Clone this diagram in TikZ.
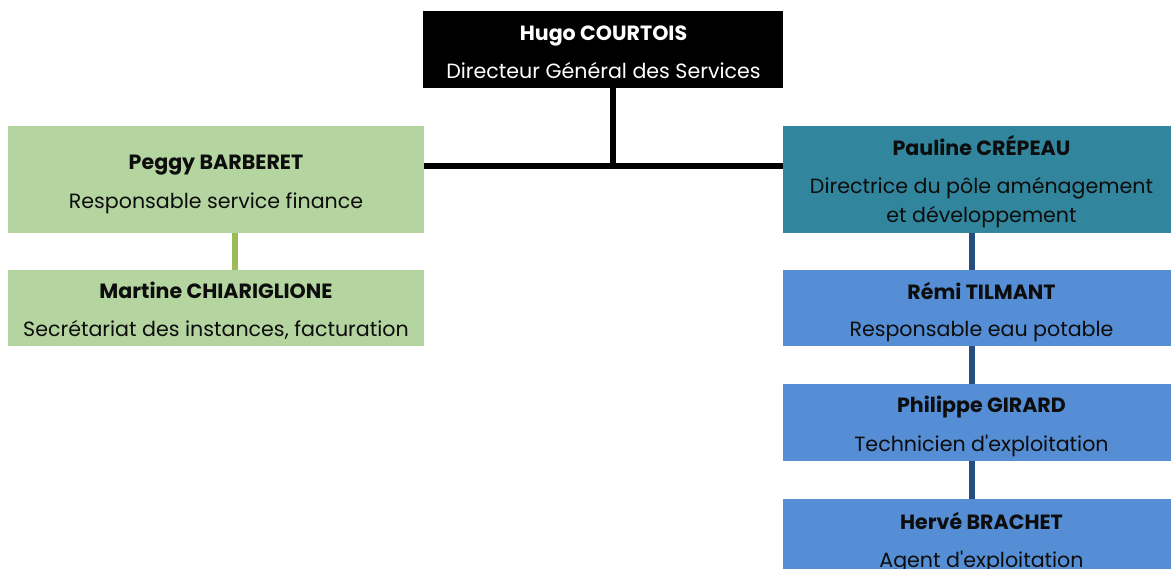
\documentclass[tikz,border=0pt]{standalone}
\usepackage{fontspec}
\setmainfont{Poppins}
\definecolor{greenfill}{HTML}{B4D4A0}
\definecolor{greenline}{HTML}{9BBB59}
\definecolor{tealfill}{HTML}{31859C}
\definecolor{bluefill}{HTML}{558ED5}
\definecolor{blueline}{HTML}{254D7F}
\definecolor{txt}{HTML}{0D0D0D}
\begin{document}
\begin{tikzpicture}[x=1pt,y=-1pt,
  box/.style={rectangle,draw=none,inner sep=0pt,outer sep=0pt},
  nm/.style={anchor=base,inner sep=0pt,font=\fontsize{20.6}{24}\selectfont\bfseries,text=txt},
  rl/.style={anchor=base,inner sep=0pt,font=\fontsize{20.6}{24}\selectfont,text=txt},
  blk/.style={draw=black,line width=6pt},
  gl/.style={draw=greenline,line width=5.5pt},
  bl/.style={draw=blueline,line width=5.5pt}]
\useasboundingbox[fill=white] (0,0) rectangle (1171,569);
% boxes
\node[box,fill=black,minimum width=360,minimum height=77] (dgs) at (603,49.5) {};
\node[box,fill=greenfill,minimum width=416,minimum height=107] (fin) at (216,179.5) {};
\node[box,fill=greenfill,minimum width=416,minimum height=76] (sec) at (216,308) {};
\node[box,fill=tealfill,minimum width=397,minimum height=107] (pol) at (981.5,179.5) {};
\node[box,fill=bluefill,minimum width=397,minimum height=76] (eau) at (981.5,308) {};
\node[box,fill=bluefill,minimum width=397,minimum height=77] (tech) at (981.5,422.5) {};
\node[box,fill=bluefill,minimum width=397,minimum height=90] (agent) at (981.5,544) {};
% connectors
\coordinate (j) at (613,166.5);
\coordinate (gx) at (235,0);
\coordinate (bx) at (972,0);
\draw[blk] (dgs.south -| j) -- (j);
\draw[blk] (fin.east |- j) -- (pol.west |- j);
\draw[gl] (fin.south -| gx) -- (sec.north -| gx);
\draw[bl] (pol.south -| bx) -- (eau.north -| bx);
\draw[bl] (eau.south -| bx) -- (tech.north -| bx);
\draw[bl] (tech.south -| bx) -- (agent.north -| bx);
% texts
\node[nm,text=white] (t1) at (603.5,41) {Hugo COURTOIS};
\node[rl,text=white] (t2) at (603.5,79) {Directeur Général des Services};
\node[nm] (t3) at (216,170) {Peggy BARBERET};
\node[rl] (t4) at (216,209) {Responsable service finance};
\node[nm] (t5) at (216,299) {Martine CHIARIGLIONE};
\node[rl] (t6) at (216,337) {Secrétariat des instances, facturation};
\node[nm] (t7) at (981.5,156) {Pauline CRÉPEAU};
\node[rl] (t8) at (981.5,194) {Directrice du pôle aménagement};
\node[rl] (t9) at (981.5,223) {et développement};
\node[nm] (t10) at (981.5,300) {Rémi TILMANT};
\node[rl] (t11) at (981.5,337) {Responsable eau potable};
\node[nm] (t12) at (981.5,413) {Philippe GIRARD};
\node[rl] (t13) at (981.5,452) {Technicien d\textquotesingle exploitation};
\node[nm] (t14) at (981.5,529) {Hervé BRACHET};
\node[rl] (t15) at (981.5,567) {Agent d\textquotesingle exploitation};
\end{tikzpicture}
\end{document}
